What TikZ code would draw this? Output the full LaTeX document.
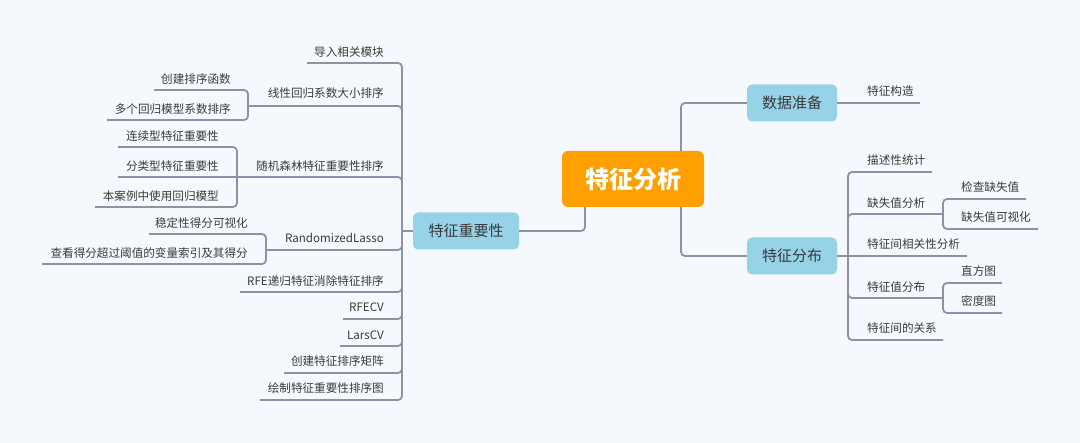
\documentclass[tikz,border=0pt]{standalone}
\usepackage{fontspec}
\setmainfont{Noto Sans CJK SC}
\definecolor{bg}{HTML}{F5F9FD}
\definecolor{ln}{HTML}{8A94A8}
\definecolor{tx}{HTML}{3A3A3A}
\definecolor{orn}{HTML}{FFA000}
\definecolor{blu}{HTML}{96D2E8}
\tikzset{
  leaf/.style={font=\fontsize{11.6}{14}\selectfont, text=tx, inner sep=0pt},
  lleaf/.style={leaf, anchor=east},
  rleaf/.style={leaf, anchor=west},
  conn/.style={draw=ln, line width=1.8pt, rounded corners=4pt},
  topic/.style={fill=blu, rounded corners=5pt, text=tx, font=\fontsize{15}{18}\selectfont, minimum height=37pt, inner sep=0pt},
  root/.style={fill=orn, rounded corners=6pt, text=white, font=\fontsize{24}{28}\selectfont\bfseries, minimum width=142pt, minimum height=56pt, inner sep=0pt}
}
\begin{document}
\begin{tikzpicture}[x=1pt,y=-1pt]
\fill[bg] (0,0) rectangle (1080,443);
\useasboundingbox (0,0) rectangle (1080,443);

% spine coordinates
\coordinate (L) at (402,231);
\coordinate (L1) at (248,106);
\coordinate (L2) at (237,177);
\coordinate (L3) at (266,250);
\coordinate (R) at (681,179);
\coordinate (D) at (848,256);
\coordinate (D1) at (943,214);
\coordinate (D2) at (943,298);

% root connectors (behind root)
\draw[conn] (R) |- (747,103);
\draw[conn] (R) |- (747,256);

% nodes
\node[root] (root) at (633,179) {特征分析};
\node[topic, minimum width=106pt] (imp) at (466,231) {特征重要性};
\node[topic, minimum width=90pt] (prep) at (792,103) {数据准备};
\node[topic, minimum width=90pt] (dist) at (792,256) {特征分布};

\draw[conn] ([xshift=-48pt]root.south) |- (imp.east);

% left leaves
\node[lleaf] (a1) at (384,52) {导入相关模块};
\node[lleaf] (a2) at (384,93) {线性回归系数大小排序};
\node[lleaf] (a21) at (231,79) {创建排序函数};
\node[lleaf] (a22) at (231,109) {多个回归模型系数排序};
\node[lleaf] (a3) at (384,166) {随机森林特征重要性排序};
\node[lleaf] (a31) at (219,136) {连续型特征重要性};
\node[lleaf] (a32) at (219,166) {分类型特征重要性};
\node[lleaf] (a33) at (219,196) {本案例中使用回归模型};
\node[lleaf] (a4) at (384,238) {RandomizedLasso};
\node[lleaf] (a41) at (248,223) {稳定性得分可视化};
\node[lleaf] (a42) at (248,253) {查看得分超过阈值的变量索引及其得分};
\node[lleaf] (a5) at (384,281) {RFE递归特征消除特征排序};
\node[lleaf] (a6) at (384,307) {RFECV};
\node[lleaf] (a7) at (384,335) {LarsCV};
\node[lleaf] (a8) at (384,361) {创建特征排序矩阵};
\node[lleaf] (a9) at (384,388) {绘制特征重要性排序图};

\draw[conn] (imp.west) -- (L);
\draw[conn] (L) |- (307,63);
\draw[conn] (L) |- (L1);
\draw[conn] (L) |- (L2);
\draw[conn] (L) |- (L3);
\draw[conn] (L) |- (240,292);
\draw[conn] (L) |- (343,319);
\draw[conn] (L) |- (340,346);
\draw[conn] (L) |- (284,373);
\draw[conn] (L) |- (260,400);
\draw[conn] (L1) |- (154,90);
\draw[conn] (L1) |- (107,120);
\draw[conn] (L2) |- (118,147);
\draw[conn] (L2) -- (118,177);
\draw[conn] (L2) |- (95,207);
\draw[conn] (L3) |- (149,234);
\draw[conn] (L3) |- (42,264);

% right leaves
\node[rleaf] (b1) at (867,91) {特征构造};
\node[rleaf] (c1) at (867,160) {描述性统计};
\node[rleaf] (c2) at (867,203) {缺失值分析};
\node[rleaf] (c21) at (961,187) {检查缺失值};
\node[rleaf] (c22) at (961,217) {缺失值可视化};
\node[rleaf] (c3) at (867,244) {特征间相关性分析};
\node[rleaf] (c4) at (867,287) {特征值分布};
\node[rleaf] (c41) at (961,271) {直方图};
\node[rleaf] (c42) at (961,301) {密度图};
\node[rleaf] (c5) at (867,328) {特征间的关系};

\draw[conn] (prep.east) -- (920,103);
\draw[conn] (dist.east) -- (967,256);
\draw[conn] (D) |- (932,172);
\draw[conn] (D) |- (D1);
\draw[conn] (D) |- (D2);
\draw[conn] (D) |- (943,340);
\draw[conn] (D1) |- (1026,199);
\draw[conn] (D1) |- (1038,229);
\draw[conn] (D2) |- (1002,283);
\draw[conn] (D2) |- (1002,313);
\end{tikzpicture}
\end{document}
